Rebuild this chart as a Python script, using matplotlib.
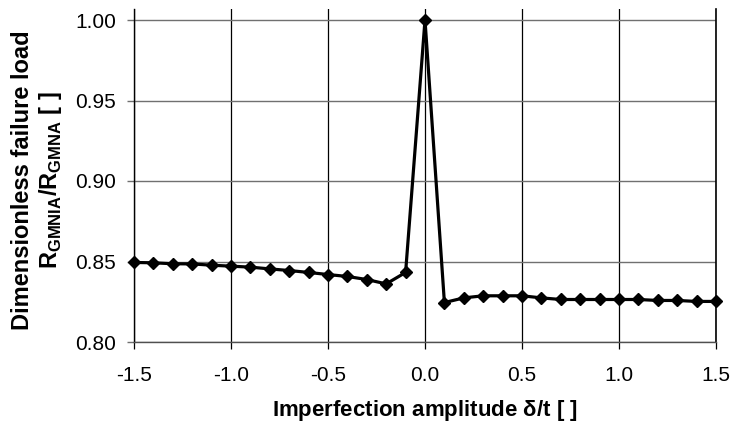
import matplotlib
matplotlib.use("Agg")
import matplotlib.pyplot as plt

amplitude = [-1.5, -1.4, -1.3, -1.2, -1.1, -1.0, -0.9, -0.8, -0.7, -0.6, -0.5, -0.4, -0.3, -0.2, -0.1,
             0.0, 0.1, 0.2, 0.3, 0.4, 0.5, 0.6, 0.7, 0.8, 0.9, 1.0, 1.1, 1.2, 1.3, 1.4, 1.5]
failure_load = [0.8494, 0.8492, 0.8486, 0.8485, 0.8477, 0.8471, 0.8465, 0.8454, 0.8444, 0.8432, 0.8419,
                0.8407, 0.8388, 0.8361, 0.8432,
                1.000, 0.8245, 0.8274, 0.8287, 0.8287, 0.8287, 0.8274, 0.8264, 0.8264, 0.8264, 0.8264,
                0.8264, 0.8258, 0.8258, 0.8252, 0.8252]
xticks = [-1.5, -1.0, -0.5, 0.0, 0.5, 1.0, 1.5]
yticks = [0.80, 0.85, 0.90, 0.95, 1.00]

plt.rcParams['font.family'] = ['Liberation Sans', 'DejaVu Sans']
plt.rcParams['mathtext.fontset'] = 'custom'
plt.rcParams['mathtext.rm'] = 'Liberation Sans'
plt.rcParams['mathtext.bf'] = 'Liberation Sans:bold'

fig = plt.figure(figsize=(7.34, 4.24), dpi=100)
ax = fig.add_axes([134/734, 1 - 342/424, (716-134)/734, (342-9)/424])
ax.plot(amplitude, failure_load, color='black', lw=2.3, marker='D', ms=5.8, zorder=3, clip_on=False)
ax.set_xlim(-1.5, 1.5)
ax.set_ylim(0.80, 1.0 + 11/1610)
ax.set_xticks(xticks)
ax.set_xticklabels([f"{v:.1f}" for v in xticks])
ax.set_yticks(yticks)
ax.set_yticklabels([f"{v:.2f}" for v in yticks])
ax.xaxis.grid(True, color='black', lw=0.9)
ax.yaxis.grid(True, color='#707070', lw=1.0)
ax.tick_params(axis='x', labelsize=15, length=5, width=0.9, color='black', pad=12.5)
ax.tick_params(axis='y', labelsize=15, length=5, width=1.0, color='#707070', pad=8)
ax.spines['top'].set_visible(False)
ax.spines['left'].set_color('black')
ax.spines['left'].set_linewidth(1.0)
ax.spines['right'].set_color('black')
ax.spines['right'].set_linewidth(1.2)
ax.spines['bottom'].set_color('#505050')
ax.spines['bottom'].set_linewidth(1.0)
ax.set_xlabel(r"Imperfection amplitude $\mathbf{\delta}$/t [ ]", fontsize=16, fontweight='bold', labelpad=9)
ax.set_ylabel("Dimensionless failure load\n" + r"R$_\mathbf{GMNIA}$/R$_\mathbf{GMNA}$ [ ]",
              fontsize=17, fontweight='bold', linespacing=1.15)
ax.yaxis.set_label_coords((64 - 134) / 582, (342 - 180.5) / 333)
fig.savefig("out.png", dpi=100)
